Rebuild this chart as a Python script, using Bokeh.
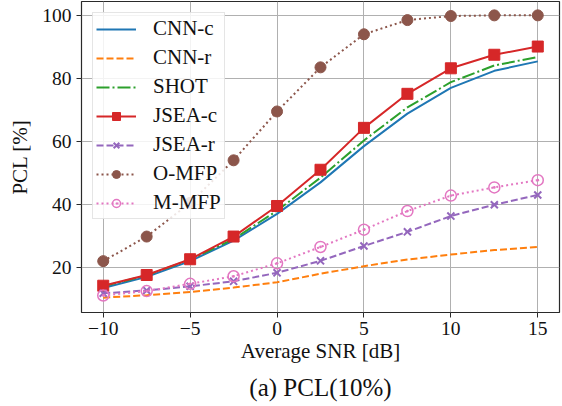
from bokeh.plotting import figure
from bokeh.models import Range1d, FixedTicker, Legend, LegendItem, Title
from bokeh.embed import file_html
from bokeh.resources import INLINE

snr = [-10, -7.5, -5, -2.5, 0, 2.5, 5, 7.5, 10, 12.5, 15]
cnn_c = [13.5, 17.0, 22.0, 28.5, 37.0, 47.0, 58.5, 68.8, 77.0, 82.4, 85.4]
cnn_r = [10.4, 11.2, 12.2, 13.6, 15.3, 18.0, 20.4, 22.5, 24.1, 25.5, 26.5]
shot = [14.0, 17.5, 22.5, 29.0, 38.0, 48.5, 60.3, 70.8, 78.8, 84.1, 86.8]
jsea_c = [14.2, 17.6, 22.6, 29.8, 39.5, 51.0, 64.3, 75.1, 83.2, 87.5, 90.1]
jsea_r = [11.8, 12.7, 14.0, 15.6, 18.3, 22.1, 26.8, 31.3, 36.3, 39.9, 43.0]
o_mfp = [22.0, 29.8, 40.5, 54.0, 69.5, 83.5, 94.0, 98.5, 99.8, 100.0, 100.0]
m_mfp = [11.1, 12.5, 14.8, 17.2, 21.3, 26.5, 32.0, 37.9, 42.8, 45.4, 47.7]

x_ticks = [-10, -5, 0, 5, 10, 15]
y_ticks = [20, 40, 60, 80, 100]

SERIF = "Liberation Serif"

p = figure(width=562, height=406, output_backend="svg", toolbar_location=None,
           x_range=Range1d(-11.25, 16.25), y_range=Range1d(5.7, 104.4),
           min_border_left=81, min_border_right=3, min_border_top=1,
           min_border_bottom=94)

p.background_fill_color = "white"
p.border_fill_color = "white"
p.outline_line_color = "#2a2a2a"
p.outline_line_width = 1.2

for ax in (p.xaxis, p.yaxis):
    ax.axis_line_color = None
    ax.major_tick_line_color = "#2a2a2a"
    ax.major_tick_in = 0
    ax.major_tick_out = 5
    ax.minor_tick_line_color = None
    ax.major_label_text_font = SERIF
    ax.major_label_text_font_size = "19.5px"
    ax.major_label_text_color = "#111111"
    ax.axis_label_text_font = SERIF
    ax.axis_label_text_font_size = "21px"
    ax.axis_label_text_font_style = "normal"
    ax.axis_label_text_color = "#111111"

p.xaxis.ticker = FixedTicker(ticks=x_ticks)
p.yaxis.ticker = FixedTicker(ticks=y_ticks)
p.xaxis.major_label_overrides = {t: str(t).replace("-", "\u2212") for t in x_ticks}
p.xaxis.major_label_standoff = 4
p.yaxis.major_label_standoff = 5
p.xaxis.axis_label = "Average SNR [dB]"
p.yaxis.axis_label = "PCL [%]"
p.xaxis.axis_label_standoff = 1
p.yaxis.axis_label_standoff = 7

p.xgrid.ticker = FixedTicker(ticks=x_ticks)
p.ygrid.ticker = FixedTicker(ticks=y_ticks)
for g in (p.xgrid, p.ygrid):
    g.grid_line_color = "#b0b0b0"
    g.grid_line_width = 1

LW = 2
blue, orange, green, red, purple, brown, pink = (
    "#1f77b4", "#ff7f0e", "#2ca02c", "#d62728", "#9467bd", "#8c564b", "#e377c2")

items = []

r = p.line(snr, cnn_c, color=blue, line_width=LW)
items.append(LegendItem(label="CNN-c", renderers=[r]))

r = p.line(snr, cnn_r, color=orange, line_width=LW, line_dash="7 3")
items.append(LegendItem(label="CNN-r", renderers=[r]))

r = p.line(snr, shot, color=green, line_width=LW, line_dash="13 3 2 3")
items.append(LegendItem(label="SHOT", renderers=[r]))

r1 = p.line(snr, jsea_c, color=red, line_width=LW)
r2 = p.scatter(snr, jsea_c, marker="square", size=11, color=red)
items.append(LegendItem(label="JSEA-c", renderers=[r1, r2]))

r1 = p.line(snr, jsea_r, color=purple, line_width=LW, line_dash="7 3")
r2 = p.scatter(snr, jsea_r, marker="x", size=10, line_color=purple, line_width=2)
items.append(LegendItem(label="JSEA-r", renderers=[r1, r2]))

r1 = p.line(snr, o_mfp, color=brown, line_width=LW, line_dash="2 3")
r2 = p.scatter(snr, o_mfp, marker="circle", size=11, color=brown)
items.append(LegendItem(label="O-MFP", renderers=[r1, r2]))

r1 = p.line(snr, m_mfp, color=pink, line_width=LW, line_dash="2 3")
r2 = p.scatter(snr, m_mfp, marker="circle_dot", size=11, line_color=pink,
               fill_color="white", fill_alpha=0.0, line_width=1.5)
items.append(LegendItem(label="M-MFP", renderers=[r1, r2]))

legend = Legend(items=items, location="top_left", margin=11)
legend.label_text_font = SERIF
legend.label_text_font_size = "21px"
legend.label_text_color = "#111111"
legend.glyph_width = 40
legend.glyph_height = 20
legend.label_height = 20
legend.spacing = 4
legend.padding = 3
legend.label_standoff = 17
legend.border_line_color = "#cccccc"
legend.border_line_width = 1
legend.background_fill_alpha = 0.85
p.add_layout(legend)

caption = Title(text="(a) PCL(10%)", align="center", text_font=SERIF,
                text_font_size="25px", text_font_style="normal",
                text_color="#111111", standoff=12)
p.add_layout(caption, "below")

open("out.html", "w").write(file_html(p, INLINE))
